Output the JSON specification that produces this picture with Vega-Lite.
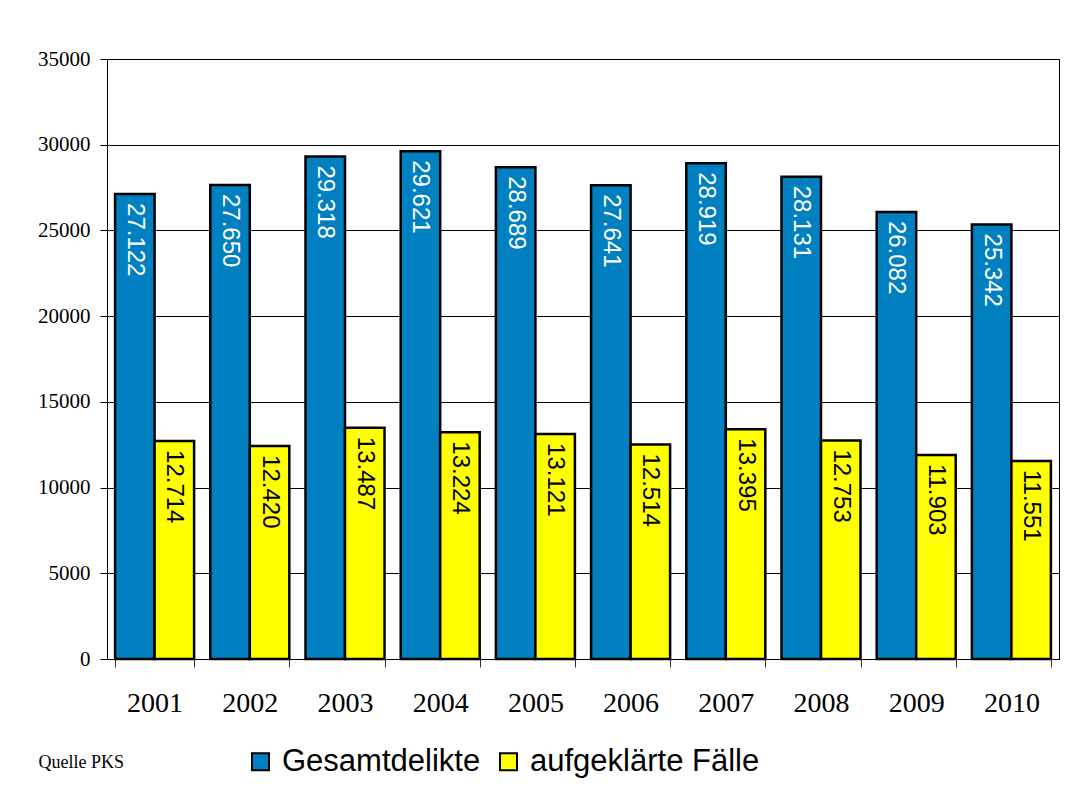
{
  "$schema": "https://vega.github.io/schema/vega-lite/v6.json",
  "width": 952,
  "height": 600,
  "autosize": {"type": "none"},
  "padding": {"left": 107, "top": 59, "right": 11, "bottom": 133},
  "background": "white",
  "config": {
    "locale": {"number": {"decimal": ",", "thousands": ".", "grouping": [3], "currency": ["", " €"]}},
    "view": {"stroke": "black", "strokeWidth": 1},
    "font": "Liberation Serif"
  },
  "title": {
    "text": "Quelle PKS",
    "orient": "bottom",
    "anchor": "start",
    "font": "Liberation Serif",
    "fontSize": 18,
    "fontWeight": "normal",
    "color": "black",
    "dx": 1,
    "offset": -23
  },
  "data": {
    "values": [
      {"Jahr": "2001", "Serie": "Gesamtdelikte", "Wert": 27122},
      {"Jahr": "2002", "Serie": "Gesamtdelikte", "Wert": 27650},
      {"Jahr": "2003", "Serie": "Gesamtdelikte", "Wert": 29318},
      {"Jahr": "2004", "Serie": "Gesamtdelikte", "Wert": 29621},
      {"Jahr": "2005", "Serie": "Gesamtdelikte", "Wert": 28689},
      {"Jahr": "2006", "Serie": "Gesamtdelikte", "Wert": 27641},
      {"Jahr": "2007", "Serie": "Gesamtdelikte", "Wert": 28919},
      {"Jahr": "2008", "Serie": "Gesamtdelikte", "Wert": 28131},
      {"Jahr": "2009", "Serie": "Gesamtdelikte", "Wert": 26082},
      {"Jahr": "2010", "Serie": "Gesamtdelikte", "Wert": 25342},
      {"Jahr": "2001", "Serie": "aufgeklärte Fälle", "Wert": 12714},
      {"Jahr": "2002", "Serie": "aufgeklärte Fälle", "Wert": 12420},
      {"Jahr": "2003", "Serie": "aufgeklärte Fälle", "Wert": 13487},
      {"Jahr": "2004", "Serie": "aufgeklärte Fälle", "Wert": 13224},
      {"Jahr": "2005", "Serie": "aufgeklärte Fälle", "Wert": 13121},
      {"Jahr": "2006", "Serie": "aufgeklärte Fälle", "Wert": 12514},
      {"Jahr": "2007", "Serie": "aufgeklärte Fälle", "Wert": 13395},
      {"Jahr": "2008", "Serie": "aufgeklärte Fälle", "Wert": 12753},
      {"Jahr": "2009", "Serie": "aufgeklärte Fälle", "Wert": 11903},
      {"Jahr": "2010", "Serie": "aufgeklärte Fälle", "Wert": 11551}
    ]
  },
  "encoding": {
    "x": {
      "field": "Jahr",
      "type": "nominal",
      "scale": {"paddingInner": 0.17, "paddingOuter": 0.085},
      "axis": {
        "title": null,
        "labelAngle": 0,
        "labelFont": "Liberation Serif",
        "labelFontSize": 28,
        "labelFontWeight": "normal",
        "labelColor": "black",
        "labelPadding": 22,
        "tickBand": "extent",
        "tickSize": 8,
        "tickColor": "#333",
        "domainColor": "black",
        "grid": false
      }
    },
    "xOffset": {"field": "Serie", "type": "nominal", "sort": ["Gesamtdelikte", "aufgeklärte Fälle"], "scale": {"paddingInner": 0}},
    "y": {
      "field": "Wert",
      "type": "quantitative",
      "scale": {"domain": [0, 35000], "nice": false},
      "axis": {
        "title": null,
        "values": [0, 5000, 10000, 15000, 20000, 25000, 30000, 35000],
        "format": "d",
        "labelFont": "Liberation Serif",
        "labelFontSize": 21,
        "labelFontWeight": "normal",
        "labelColor": "black",
        "labelPadding": 10,
        "tickSize": 7,
        "tickColor": "black",
        "domainColor": "black",
        "grid": true,
        "gridColor": "black",
        "gridOpacity": 1,
        "gridWidth": 1
      }
    }
  },
  "layer": [
    {
      "mark": {"type": "bar", "stroke": "black", "strokeWidth": 2.5},
      "encoding": {
        "fill": {
          "field": "Serie",
          "type": "nominal",
          "sort": ["Gesamtdelikte", "aufgeklärte Fälle"],
          "scale": {"domain": ["Gesamtdelikte", "aufgeklärte Fälle"], "range": ["#0080C0", "#FFFF00"]},
          "legend": {
            "title": null,
            "orient": "none",
            "direction": "horizontal",
            "legendX": 138,
            "legendY": 687,
            "symbolType": "square",
            "symbolSize": 289,
            "symbolStrokeColor": "black",
            "symbolStrokeWidth": 2,
            "symbolOpacity": 1,
            "labelFont": "Liberation Sans",
            "labelFontSize": 31,
            "labelColor": "black",
            "labelOffset": 6,
            "labelLimit": 400,
            "columnPadding": 12
          }
        }
      }
    },
    {
      "mark": {"type": "text", "angle": 90, "align": "left", "baseline": "middle", "dx": 9, "font": "Liberation Sans", "fontSize": 24},
      "encoding": {
        "text": {"field": "Wert", "type": "quantitative", "format": ",d"},
        "color": {
          "condition": {"test": "datum.Serie === 'Gesamtdelikte'", "value": "white"},
          "value": "black"
        }
      }
    }
  ]
}
